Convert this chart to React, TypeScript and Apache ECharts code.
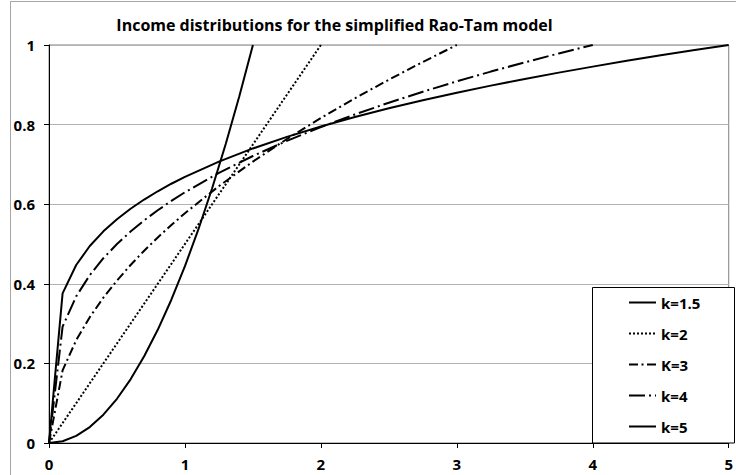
import React, { useEffect, useRef } from "react";
import * as echarts from "echarts";

const chartTitle = "Income distributions for the simplified Rao-Tam model";
const seriesNames = ["k=1.5", "k=2", "K=3", "k=4", "k=5"];

const xTicks = [0, 1, 2, 3, 4, 5];
const yTicks = [0, 0.2, 0.4, 0.6, 0.8, 1];

const xK15 = [0, 0.1, 0.2, 0.3, 0.4, 0.5, 0.6, 0.7, 0.8, 0.9, 1.0, 1.1, 1.2, 1.3, 1.4, 1.5];
const yK15 = [0, 0.0044, 0.0178, 0.04, 0.0711, 0.1111, 0.16, 0.2178, 0.2844, 0.36, 0.4444, 0.5378, 0.64, 0.7511, 0.8711, 1];

const xK2 = [0, 2];
const yK2 = [0, 1];

const xK3 = [0, 0.1, 0.2, 0.3, 0.4, 0.5, 0.6, 0.7, 0.8, 0.9, 1.0, 1.25, 1.5, 1.75, 2.0, 2.25, 2.5, 2.75, 3.0];
const yK3 = [0, 0.1826, 0.2582, 0.3162, 0.3652, 0.4082, 0.4472, 0.4831, 0.5164, 0.5477, 0.5774, 0.6455, 0.7071, 0.7638, 0.8165, 0.866, 0.9129, 0.9574, 1];

const xK4 = [0, 0.1, 0.2, 0.3, 0.4, 0.5, 0.6, 0.7, 0.8, 0.9, 1.0, 1.25, 1.5, 1.75, 2.0, 2.25, 2.5, 2.75, 3.0, 3.25, 3.5, 3.75, 4.0];
const yK4 = [0, 0.2924, 0.3684, 0.4217, 0.4642, 0.5, 0.5313, 0.5593, 0.5848, 0.6082, 0.63, 0.6786, 0.7211, 0.7592, 0.7937, 0.8255, 0.855, 0.8826, 0.9086, 0.9332, 0.9565, 0.9787, 1];

const xK5 = [0, 0.1, 0.2, 0.3, 0.4, 0.5, 0.6, 0.7, 0.8, 0.9, 1.0, 1.25, 1.5, 1.75, 2.0, 2.25, 2.5, 2.75, 3.0, 3.25, 3.5, 3.75, 4.0, 4.25, 4.5, 4.75, 5.0];
const yK5 = [0, 0.3761, 0.4472, 0.4949, 0.5318, 0.5623, 0.5886, 0.6117, 0.6325, 0.6514, 0.6687, 0.7071, 0.7401, 0.7692, 0.7953, 0.819, 0.8409, 0.8612, 0.8801, 0.8979, 0.9147, 0.9306, 0.9457, 0.9602, 0.974, 0.9873, 1];

const zip = (xs: number[], ys: number[]) => xs.map((x, i) => [x, ys[i]]);

const FONT = '"Open Sans", Lato, sans-serif';

export default function App() {
  const ref = useRef<HTMLDivElement>(null);
  useEffect(() => {
    if (!ref.current) return;
    const chart = echarts.init(ref.current, undefined, { renderer: "svg" });
    const lineStyles: any[] = [
      { color: "#000", width: 2, type: "solid" },
      { color: "#000", width: 2, type: [2, 2] },
      { color: "#000", width: 2, type: [9, 3.5, 2, 3.5] },
      { color: "#000", width: 2, type: [16, 4, 2, 4] },
      { color: "#000", width: 2, type: "solid" },
    ];
    const datas = [zip(xK15, yK15), zip(xK2, yK2), zip(xK3, yK3), zip(xK4, yK4), zip(xK5, yK5)];
    chart.setOption({
      animation: false,
      backgroundColor: "#fff",
      grid: {
        left: 49,
        right: 5,
        top: 45,
        bottom: 32,
        show: true,
        borderColor: "#808080",
        borderWidth: 1,
      },
      xAxis: {
        type: "value",
        min: xTicks[0],
        max: xTicks[xTicks.length - 1],
        interval: 1,
        axisLine: { show: true, lineStyle: { color: "#000", width: 1 } },
        axisTick: { show: true, length: 5, lineStyle: { color: "#000" } },
        axisLabel: { margin: 13, color: "#000", fontWeight: "bold", fontSize: 15, fontFamily: FONT },
        splitLine: { show: false },
      },
      yAxis: {
        type: "value",
        min: yTicks[0],
        max: yTicks[yTicks.length - 1],
        interval: 0.2,
        axisLine: { show: true, lineStyle: { color: "#000", width: 1 } },
        axisTick: { show: true, length: 5, lineStyle: { color: "#000" } },
        axisLabel: { margin: 14, color: "#000", fontWeight: "bold", fontSize: 15, fontFamily: FONT },
        splitLine: { show: true, lineStyle: { color: "#b3b3b3", width: 1 } },
      },
      legend: {
        orient: "vertical",
        left: 628,
        top: 295,
        padding: 0,
        itemWidth: 27,
        itemHeight: 14,
        itemGap: 16,
        z: 100,
        data: seriesNames,
        itemStyle: { opacity: 0 },
        textStyle: { color: "#000", fontWeight: "bold", fontSize: 15, fontFamily: FONT },
      },
      graphic: [
        {
          type: "rect",
          z: 50,
          shape: { x: 10.5, y: 1.5, width: 900, height: 700 },
          style: { fill: "none", stroke: "#a6a6a6", lineWidth: 1 },
          silent: true,
        },
        {
          type: "rect",
          z: 50,
          shape: { x: 592.5, y: 287.5, width: 142, height: 155.5 },
          style: { fill: "#fff", stroke: "#000", lineWidth: 1 },
          silent: true,
        },
        {
          type: "text",
          z: 50,
          x: 334.5,
          y: 25,
          style: {
            text: chartTitle,
            align: "center",
            verticalAlign: "middle",
            fill: "#000",
            font: `bold 16px ${FONT}`,
          },
        },
      ],
      series: seriesNames.map((name, i) => ({
        name,
        type: "line",
        data: datas[i],
        symbol: "none",
        smooth: false,
        lineStyle: lineStyles[i],
        itemStyle: { color: "#000" },
        z: 2,
      })),
    });
    return () => chart.dispose();
  }, []);
  return <div ref={ref} style={{ position: "fixed", left: 0, top: 0, width: 736, height: 475 }} />;
}
